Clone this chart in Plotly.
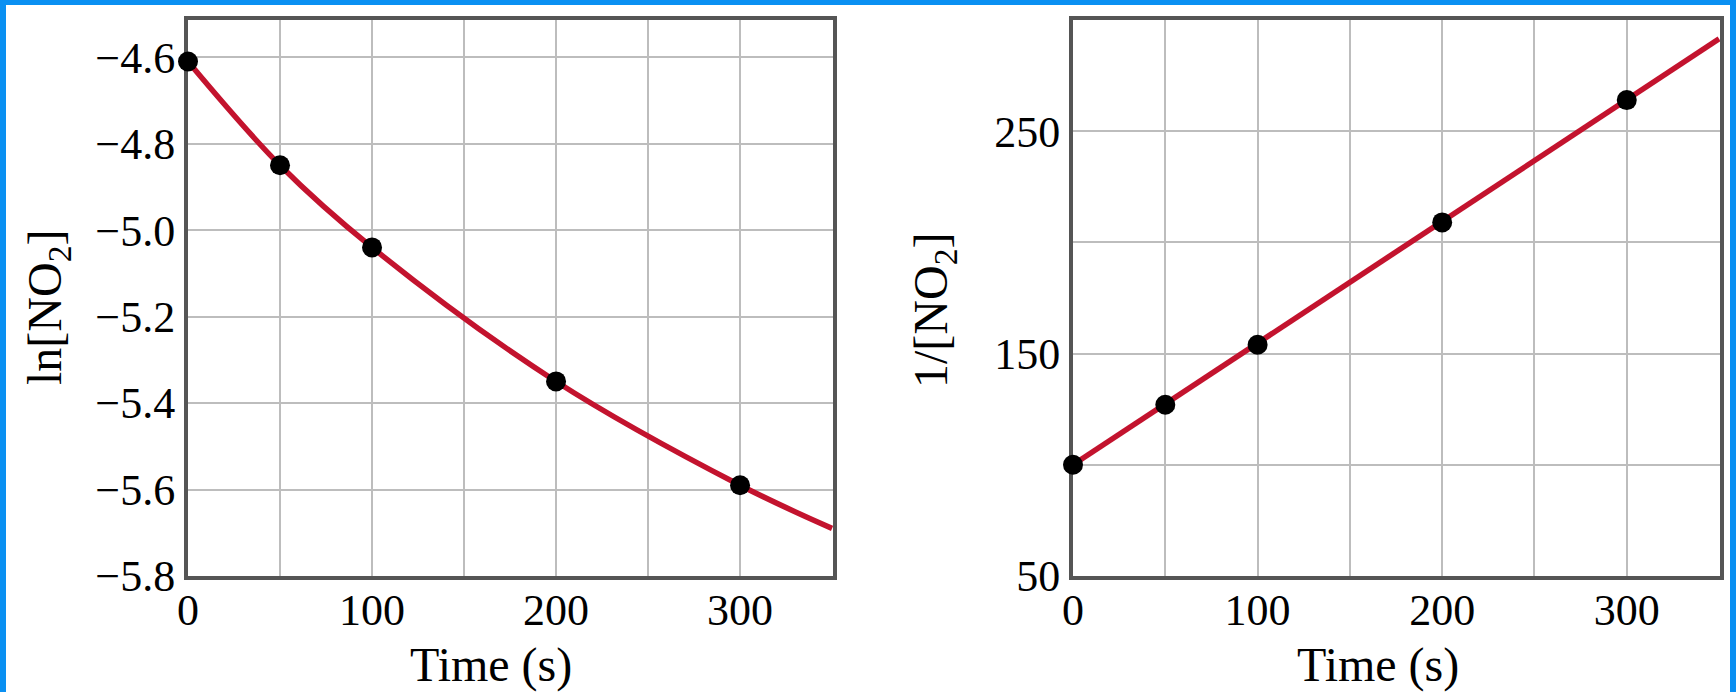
import plotly.graph_objects as go

# ---- data ----
time_s = [0, 50, 100, 200, 300]
ln_no2 = [-4.61, -4.85, -5.04, -5.35, -5.59]
inv_no2 = [100, 127, 154, 209, 264]

# smooth curve through first-order plot (spline drawn by plotly)
curve_t = [0, 50, 100, 200, 300, 350]
curve_ln = [-4.61, -4.85, -5.04, -5.35, -5.59, -5.69]

# straight line of second-order plot
fit_t = [0, 350]
fit_inv = [100, 291.5]

x_ticks = [0, 100, 200, 300]
left_y_ticks = [-4.6, -4.8, -5.0, -5.2, -5.4, -5.6, -5.8]
right_y_ticks = [50, 150, 250]

W, H = 1736, 692
RED = "#C3132E"
FRAME = "#555555"
GRID = "#BDBDBD"
FONT = "Liberation Serif"

fig = go.Figure()

fig.add_trace(go.Scatter(x=curve_t, y=curve_ln, mode="lines", line=dict(color=RED, width=5.5, shape="spline"),
                         xaxis="x", yaxis="y", hoverinfo="skip"))
fig.add_trace(go.Scatter(x=time_s, y=ln_no2, mode="markers", marker=dict(color="black", size=20),
                         xaxis="x", yaxis="y", cliponaxis=False))
fig.add_trace(go.Scatter(x=fit_t, y=fit_inv, mode="lines", line=dict(color=RED, width=5.5),
                         xaxis="x2", yaxis="y2", hoverinfo="skip"))
fig.add_trace(go.Scatter(x=time_s, y=inv_no2, mode="markers", marker=dict(color="black", size=20),
                         xaxis="x2", yaxis="y2", cliponaxis=False))

def px_x(p):
    return p / W

def px_y(p):
    return 1 - p / H

tickfont = dict(family=FONT, size=44, color="black")

common_axis = dict(showline=True, linecolor=FRAME, linewidth=4, mirror=True,
                   showgrid=True, gridcolor=GRID, gridwidth=1.5, zeroline=False,
                   ticks="", tickfont=tickfont, layer="below traces", automargin=False)

fig.update_layout(
    width=W, height=H,
    margin=dict(l=0, r=0, t=0, b=0, autoexpand=False),
    paper_bgcolor="white", plot_bgcolor="white",
    showlegend=False,
    xaxis=dict(domain=[px_x(188), px_x(833)], range=[0, 350.5], tickvals=x_ticks,
               minor=dict(dtick=50, tick0=0, showgrid=True, gridcolor=GRID, gridwidth=1.5),
               anchor="y", ticklabelstandoff=-8, **common_axis),
    yaxis=dict(domain=[px_y(576), px_y(20)], range=[-5.8, -4.514], tickvals=left_y_ticks,
               tickformat=".1f", anchor="x", ticklabelstandoff=0, **common_axis),
    xaxis2=dict(domain=[px_x(1073), px_x(1720)], range=[0, 350.5], tickvals=x_ticks,
                minor=dict(dtick=50, tick0=0, showgrid=True, gridcolor=GRID, gridwidth=1.5),
                anchor="y2", ticklabelstandoff=-8, **common_axis),
    yaxis2=dict(domain=[px_y(576), px_y(20)], range=[50, 300], tickvals=right_y_ticks,
                minor=dict(dtick=50, tick0=50, showgrid=True, gridcolor=GRID, gridwidth=1.5),
                anchor="x2", ticklabelstandoff=0, **common_axis),
)

titlefont = dict(family=FONT, size=48, color="black")
fig.add_annotation(text="Time (s)", x=px_x(491), y=px_y(665), xref="paper", yref="paper",
                   showarrow=False, font=titlefont, xanchor="center", yanchor="middle")
fig.add_annotation(text="Time (s)", x=px_x(1378), y=px_y(665), xref="paper", yref="paper",
                   showarrow=False, font=titlefont, xanchor="center", yanchor="middle")
fig.add_annotation(text="ln[NO<sub>2</sub>]", x=px_x(48), y=px_y(308), xref="paper", yref="paper",
                   showarrow=False, font=titlefont, textangle=-90, xanchor="center", yanchor="middle")
fig.add_annotation(text="1/[NO<sub>2</sub>]", x=px_x(934), y=px_y(311), xref="paper", yref="paper",
                   showarrow=False, font=titlefont, textangle=-90, xanchor="center", yanchor="middle")

# blue frame around the figure
BLUE = "#0A90F2"
for x0, y0, x1, y1 in [(0, 0, 6, H), (0, 0, W, 5), (W - 6, 0, W, H)]:
    fig.add_shape(type="rect", xref="paper", yref="paper",
                  x0=x0 / W, x1=x1 / W, y0=1 - y1 / H, y1=1 - y0 / H,
                  fillcolor=BLUE, line=dict(width=0), layer="above")

fig.write_html("out.html", config={"displayModeBar": False},
               post_script="document.body.style.margin='0';document.body.style.overflow='hidden';")
